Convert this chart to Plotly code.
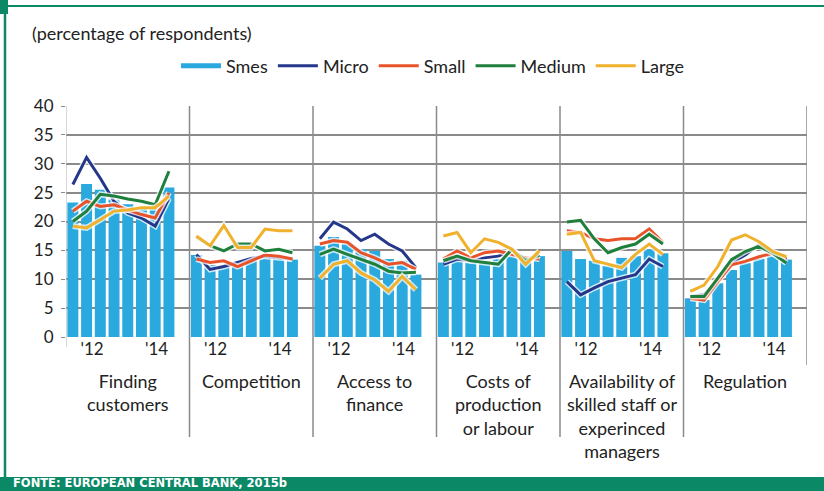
import plotly.graph_objects as go

# ---------------- data ----------------
categories = ["Finding<br>customers", "Competition", "Access to<br>finance",
              "Costs of<br>production<br>or labour",
              "Availability of<br>skilled staff or<br>experinced<br>managers",
              "Regulation"]
tick_labels = ["'12", "'14"]
series_names = ["Smes", "Micro", "Small", "Medium", "Large"]

# 8 survey rounds per category (values in % of respondents)
smes = [23.3, 26.5, 25.5, 23.8, 23.0, 22.5, 22.2, 25.9,
        14.2, 12.5, 12.3, 12.8, 13.3, 13.8, 13.7, 13.4,
        15.8, 17.3, 16.1, 15.2, 14.9, 13.5, 13.2, 10.8,
        12.9, 13.2, 12.9, 13.2, 13.5, 14.0, 13.5, 14.0,
        14.9, 13.5, 13.2, 12.3, 13.7, 14.0, 15.2, 14.5,
        6.7, 6.4, 9.3, 11.6, 12.8, 13.6, 14.2, 13.4]
micro = [26.4, 31.1, 27.5, 23.5, 21.5, 20.6, 19.2, 24.0,
         14.3, 11.7, 12.2, 12.9, 13.6, 14.0, 13.7, 13.5,
         17.0, 19.9, 18.7, 16.7, 17.8, 16.1, 14.9, 12.0,
         12.6, 13.5, 13.2, 13.7, 14.0, 14.9, 13.5, 14.0,
         9.6, 7.3, 8.5, 9.6, 10.2, 10.8, 13.5, 12.2,
         7.0, 7.3, 9.9, 12.8, 14.2, 16.0, 14.5, 13.4]
small = [21.8, 23.5, 22.6, 22.9, 22.0, 21.2, 20.6, 25.0,
         13.5, 12.9, 13.2, 12.2, 13.2, 14.2, 14.0, 13.5,
         16.1, 16.7, 16.4, 14.6, 13.7, 12.6, 12.9, 11.7,
         13.5, 14.9, 13.7, 14.6, 14.9, 14.3, 13.7, 13.5,
         18.4, 18.1, 17.0, 16.7, 17.0, 17.0, 18.7, 16.4,
         6.7, 6.4, 9.6, 12.5, 13.1, 13.9, 14.5, 13.6]
medium = [20.0, 21.8, 24.7, 24.4, 23.9, 23.5, 22.9, 28.7,
          17.3, 15.8, 14.9, 16.1, 16.1, 14.9, 15.2, 14.6,
          14.3, 15.2, 14.3, 13.5, 12.6, 11.4, 11.1, 11.2,
          13.2, 14.0, 13.2, 12.9, 12.6, 15.2, 13.2, 14.2,
          19.9, 20.2, 17.0, 14.6, 15.5, 16.1, 17.8, 16.1,
          7.0, 7.0, 10.2, 13.4, 14.8, 15.7, 14.5, 12.8]
large = [19.2, 18.9, 20.3, 21.8, 22.0, 22.4, 22.4, 24.4,
         17.5, 15.8, 19.3, 15.5, 15.5, 18.7, 18.4, 18.4,
         10.2, 12.6, 13.2, 11.1, 9.9, 7.9, 10.5, 8.2,
         17.5, 18.1, 14.6, 17.0, 16.4, 15.2, 12.6, 14.9,
         17.8, 18.1, 13.2, 12.6, 12.0, 14.3, 16.1, 14.3,
         7.9, 9.0, 12.2, 16.8, 17.7, 16.5, 14.8, 13.9]

# ---------------- styling ----------------
C_SMES = "#2aa9df"
C_MICRO = "#24378a"
C_SMALL = "#e8532a"
C_MEDIUM = "#1f7f3c"
C_LARGE = "#f0b12c"
GREEN = "#0b8866"
FONT = "Lato"
N_ROUNDS = 8
SLOTS = 9  # 8 bars + one empty slot per category

L, R, T, B = 66, 807, 106, 337
W, H = R - L, B - T


def px(x):
    return (x - L) / W


def py(y):
    return (B - y) / H


n_cat = len(categories)
bar_x = [c * SLOTS + i for c in range(n_cat) for i in range(N_ROUNDS)]


def broken(vals):
    xs, ys = [], []
    for c in range(n_cat):
        for i in range(N_ROUNDS):
            xs.append(c * SLOTS + i)
            ys.append(vals[c * N_ROUNDS + i])
        xs.append(None)
        ys.append(None)
    return xs, ys


fig = go.Figure()
fig.add_trace(go.Bar(x=bar_x, y=smes, marker_color=C_SMES, marker_line_width=0,
                     showlegend=False, name="Smes"))
# legend swatch for Smes
fig.add_trace(go.Scatter(x=[None], y=[None], mode="lines", name="Smes",
                         line=dict(color=C_SMES, width=5)))

for name, vals, col in [("Micro", micro, C_MICRO), ("Small", small, C_SMALL),
                        ("Medium", medium, C_MEDIUM), ("Large", large, C_LARGE)]:
    xs, ys = broken(vals)
    fig.add_trace(go.Scatter(x=xs, y=ys, mode="lines", showlegend=False,
                             line=dict(color="rgba(255,255,255,0.75)", width=6),
                             hoverinfo="skip"))
    fig.add_trace(go.Scatter(x=xs, y=ys, mode="lines", name=name,
                             line=dict(color=col, width=3)))

shapes = []
# category separators
for c in range(1, n_cat):
    shapes.append(dict(type="line", xref="x", yref="paper",
                       x0=c * SLOTS - 0.5, x1=c * SLOTS - 0.5, y0=py(437), y1=1,
                       line=dict(color="#8a8a8a", width=1.5)))
shapes.append(dict(type="line", xref="x", yref="paper", x0=-0.5, x1=-0.5,
                   y0=py(347), y1=1, line=dict(color="#b0b0b0", width=1)))
shapes.append(dict(type="line", xref="x", yref="paper",
                   x0=n_cat * SLOTS - 0.5, x1=n_cat * SLOTS - 0.5,
                   y0=py(365), y1=1, line=dict(color="#8a8a8a", width=1.5)))
# frame decoration
shapes.append(dict(type="rect", xref="paper", yref="paper", x0=px(-2), x1=px(830),
                   y0=py(500), y1=py(477), fillcolor=GREEN, line_width=0))
shapes.append(dict(type="line", xref="paper", yref="paper", x0=px(0), x1=px(830),
                   y0=py(6), y1=py(6), line=dict(color=GREEN, width=2)))
shapes.append(dict(type="line", xref="paper", yref="paper", x0=px(5), x1=px(5),
                   y0=py(0), y1=py(480), line=dict(color=GREEN, width=2.5)))
shapes.append(dict(type="rect", xref="paper", yref="paper", x0=px(-2), x1=px(8),
                   y0=py(14), y1=py(-2), fillcolor=GREEN, line_width=0))

annotations = []
for c, cat in enumerate(categories):
    annotations.append(dict(x=c * SLOTS + 4, y=py(368), xref="x", yref="paper",
                            text=cat, showarrow=False, yanchor="top",
                            align="center", font=dict(family=FONT, size=18, color="#222")))
annotations.append(dict(x=px(30), y=py(33), xref="paper", yref="paper",
                        text="(percentage of respondents)", showarrow=False,
                        xanchor="left", yanchor="middle",
                        font=dict(family=FONT, size=18, color="#222")))
annotations.append(dict(x=px(11), y=py(482.5), xref="paper", yref="paper",
                        text="<b>FONTE: EUROPEAN CENTRAL BANK, 2015b</b>",
                        showarrow=False, xanchor="left", yanchor="middle",
                        font=dict(family="DejaVu Sans", size=11.5, color="white")))

tickvals = []
ticktext = []
for c in range(n_cat):
    tickvals += [c * SLOTS + 1.4, c * SLOTS + 6.1]
    ticktext += tick_labels

fig.update_layout(
    width=824, height=491,
    margin=dict(l=L, r=824 - R, t=T, b=491 - B),
    paper_bgcolor="white", plot_bgcolor="white",
    bargap=0.2,
    showlegend=True,
    legend=dict(orientation="h", x=px(176), y=py(66), xanchor="left",
                yanchor="middle", font=dict(family=FONT, size=18, color="#222"),
                itemwidth=40, bgcolor="rgba(0,0,0,0)"),
    xaxis=dict(range=[-0.5, n_cat * SLOTS - 0.5], showgrid=False, zeroline=False,
               tickmode="array", tickvals=tickvals, ticktext=ticktext,
               ticks="", tickfont=dict(family=FONT, size=17, color="#222"),
               showline=False, fixedrange=True),
    yaxis=dict(range=[0, 40], dtick=5, showgrid=True, gridcolor="#8a8a8a",
               gridwidth=1.5, zeroline=False, ticks="outside", ticklen=4,
               tickcolor="#8a8a8a", tickfont=dict(family=FONT, size=17, color="#222"),
               ticklabelstandoff=4, showline=False, fixedrange=True),
    shapes=shapes, annotations=annotations,
)

fig.write_html("out.html", config={"displayModeBar": False},
               post_script="document.body.style.margin='0';")
